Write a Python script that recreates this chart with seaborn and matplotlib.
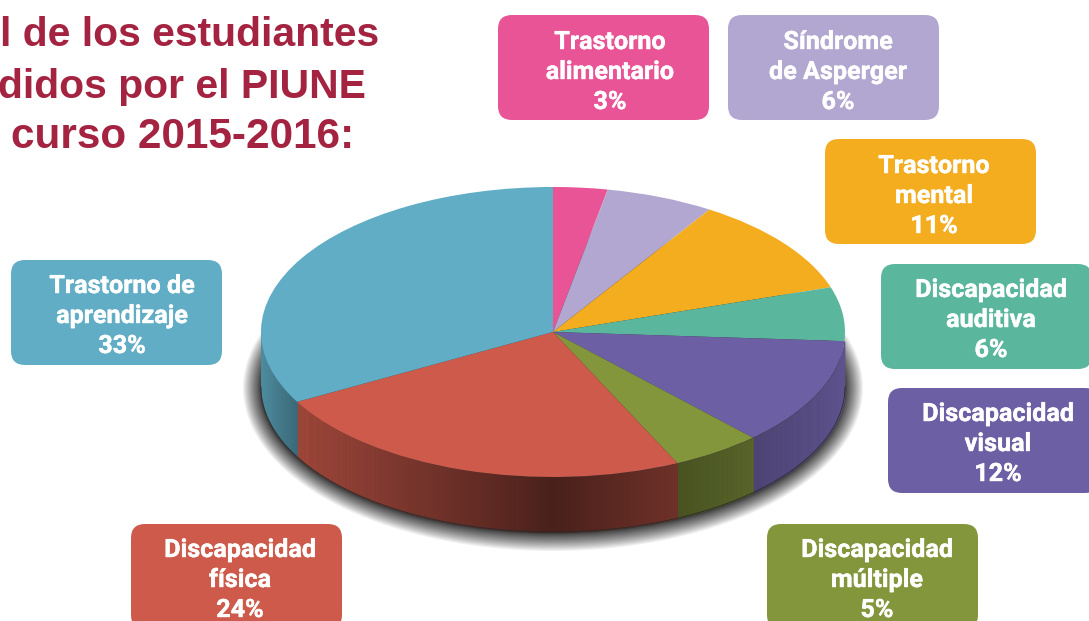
import numpy as np
import matplotlib
matplotlib.use("Agg")
import matplotlib.pyplot as plt
import matplotlib.patheffects as pe
from matplotlib.patches import FancyBboxPatch, Ellipse
import seaborn as sns

# ---- data (clockwise from twelve o'clock) ----
categories = ["Trastorno alimentario", "Síndrome de Asperger", "Trastorno mental",
              "Discapacidad auditiva", "Discapacidad visual", "Discapacidad múltiple",
              "Discapacidad física", "Trastorno de aprendizaje"]
shares = [3, 6, 11, 6, 12, 5, 24, 33]
label_lines = [["Trastorno", "alimentario", "3%"], ["Síndrome", "de Asperger", "6%"],
               ["Trastorno", "mental", "11%"], ["Discapacidad", "auditiva", "6%"],
               ["Discapacidad", "visual", "12%"], ["Discapacidad", "múltiple", "5%"],
               ["Discapacidad", "física", "24%"], ["Trastorno de", "aprendizaje", "33%"]]
title_lines = ["l de los estudiantes", "didos por el PIUNE", "curso 2015-2016:"]

# ---- style and layout ----
hex_colors = ["#e85496", "#b1a7d0", "#f4ad1f", "#5ab79d", "#6d5fa4", "#83963c", "#cd5a4a", "#60adc5"]
box_left = [498, 728, 825, 881, 888, 767, 131, 11]
box_top = [15, 15, 139, 264, 388, 524, 524, 260]
text_x = [610, 838, 934, 991, 998, 877, 240, 122]
text_top = [40, 40, 164, 288, 412, 548, 548, 284]
# wall shading along the horizontal position in the pie (-1..1), per slice
wall_shade = {4: ([0.69, 1.0], [0.72, 0.87]),
              5: ([0.435, 0.69], [0.56, 0.68]),
              6: ([-0.873, -0.5, 0.0, 0.435], [0.78, 0.60, 0.36, 0.55]),
              7: ([-1.0, -0.873], [0.80, 0.62])}
W, H = 1089, 621
cx, cy, rx, ry, depth = 553, 332, 292, 145, 55

sns.set_theme(style="white")
palette = sns.color_palette(hex_colors)

fig = plt.figure(figsize=(W / 100, H / 100), dpi=100, facecolor="white")

# pixel-space canvas for the shadow, the boxes and the texts
bg = fig.add_axes([0, 0, 1, 1])
bg.set_xlim(0, W)
bg.set_ylim(H, 0)
bg.axis("off")

for grow in (np.linspace(0, 1, 24) ** 1.6 * 18)[::-1]:
    bg.add_patch(Ellipse((cx, cy + depth + 1), 2 * (rx + grow), 2 * (ry + grow),
                         fc="black", ec="none", alpha=0.06, zorder=1))

outline = [pe.withStroke(linewidth=0.3, foreground="white")]
for i, lines in enumerate(label_lines):
    bg.add_patch(FancyBboxPatch((box_left[i] + 14, box_top[i] + 14), 211 - 28, 105 - 28,
                                boxstyle="round,pad=14,rounding_size=14",
                                fc=palette[i], ec="none", zorder=3))
    for j, line in enumerate(lines):
        bg.text(text_x[i], text_top[i] + 2 + 30 * j, line, color="white", ha="center", va="center",
                family="Roboto", weight="bold", fontsize=18.1, zorder=4, path_effects=outline)

title_right = [379, 366, 354]
title_base = [46, 98, 148]
title_size = [29.4, 29.4, 30.4]
for j, line in enumerate(title_lines):
    bg.text(title_right[j], title_base[j], line, color="#a32340", ha="right", va="baseline",
            family="Liberation Sans", weight="bold", fontsize=title_size[j], zorder=4)

# pie axes: its box is the ellipse's bounding box, so the pie comes out flattened
ax = fig.add_axes([(cx - rx) / W, (H - cy - ry) / H, 2 * rx / W, 2 * ry / H])
ax.patch.set_alpha(0)
d = depth / ry
ends = np.cumsum(shares) / np.sum(shares) * 2 * np.pi
starts = np.r_[0, ends[:-1]]
for i, (xp, fp) in wall_shade.items():
    a0, a1 = max(starts[i], np.pi / 2), min(ends[i], 3 * np.pi / 2)
    edges = np.linspace(a0, a1, max(2, int(np.degrees(a1 - a0) * 2.5)))
    for t0, t1 in zip(edges[:-1], edges[1:]):
        t = np.linspace(t0, t1, 4)
        x, y = np.sin(t), np.cos(t)
        f = np.interp(np.sin((t0 + t1) / 2), xp, fp)
        c = tuple(v * f for v in palette[i])
        ax.fill_between(x, y, y - d, color=c, lw=0.4, clip_on=False, zorder=1)
t = np.linspace(np.pi / 2, 3 * np.pi / 2, 300)
ax.plot(np.sin(t), np.cos(t) - d, color="#2b2b2b", lw=0.6, clip_on=False, zorder=1.5)

ax.pie(shares, colors=palette, startangle=90, counterclock=False, radius=1,
       wedgeprops={"clip_on": False, "linewidth": 0, "zorder": 2})
ax.set_box_aspect(None)
ax.set_aspect("auto")
ax.set_xlim(-1, 1)
ax.set_ylim(-1, 1)
ax.set_axis_off()

fig.savefig("out.png", dpi=100, facecolor="white")
